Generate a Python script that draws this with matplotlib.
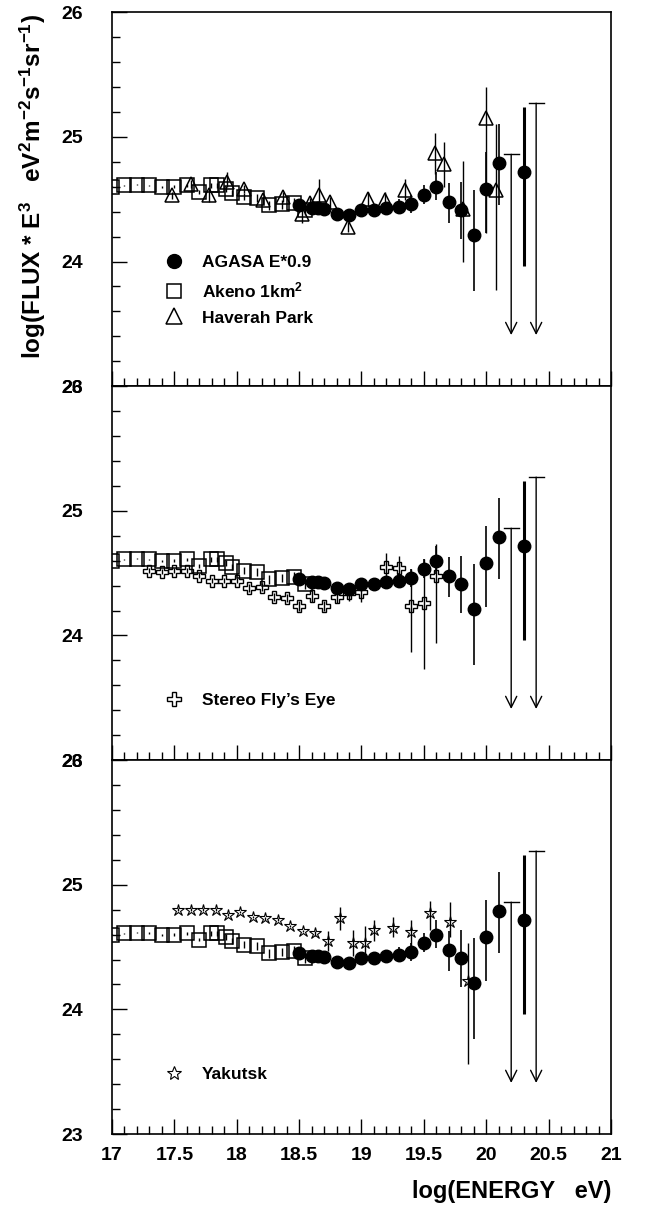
import numpy as np
import matplotlib.pyplot as plt
from matplotlib.lines import Line2D
from matplotlib.ticker import MultipleLocator, FormatStrFormatter

plt.rcParams['font.family'] = ['Liberation Sans', 'DejaVu Sans']
plt.rcParams['font.weight'] = 'bold'
plt.rcParams['mathtext.fontset'] = 'custom'
plt.rcParams['mathtext.rm'] = 'Liberation Sans:bold'
plt.rcParams['mathtext.it'] = 'Liberation Sans:bold'
plt.rcParams['mathtext.bf'] = 'Liberation Sans:bold'
plt.rcParams['mathtext.default'] = 'rm'

# AGASA, energies scaled by 0.9
agasa_x = np.array([18.5, 18.6, 18.65, 18.7, 18.8, 18.9, 19.0, 19.1, 19.2, 19.3,
                    19.4, 19.5, 19.6, 19.7, 19.8, 19.9, 20.0, 20.1, 20.3])
agasa_y = np.array([24.45, 24.43, 24.43, 24.42, 24.38, 24.37, 24.41, 24.41, 24.43, 24.44,
                    24.46, 24.53, 24.60, 24.48, 24.41, 24.21, 24.58, 24.79, 24.72])
agasa_lo = np.array([0.02, 0.02, 0.02, 0.02, 0.03, 0.03, 0.04, 0.05, 0.05, 0.06,
                     0.07, 0.07, 0.11, 0.17, 0.23, 0.45, 0.35, 0.34, 0.76])
agasa_hi = np.array([0.02, 0.02, 0.02, 0.02, 0.03, 0.03, 0.04, 0.05, 0.05, 0.06,
                     0.07, 0.08, 0.12, 0.15, 0.23, 0.36, 0.30, 0.31, 0.52])
# AGASA upper limits
agasa_ul_x = np.array([20.2, 20.4])
agasa_ul_top = np.array([24.86, 25.27])
agasa_ul_tip = np.array([23.41, 23.41])

# Akeno 1 km^2
akeno_x = np.array([17.0, 17.1, 17.2, 17.3, 17.4, 17.5, 17.6, 17.7, 17.79, 17.845,
                    17.91, 17.96, 18.06, 18.16, 18.26, 18.36, 18.46, 18.55])
akeno_y = np.array([24.60, 24.61, 24.615, 24.61, 24.60, 24.60, 24.61, 24.56, 24.61, 24.61,
                    24.58, 24.55, 24.52, 24.51, 24.45, 24.46, 24.47, 24.41])
akeno_err = np.array([0.005, 0.005, 0.005, 0.007, 0.008, 0.01, 0.012, 0.015, 0.02, 0.02,
                      0.025, 0.025, 0.03, 0.03, 0.035, 0.035, 0.04, 0.04])

# Haverah Park
hp_x = np.array([17.48, 17.63, 17.78, 17.92, 18.06, 18.21, 18.37, 18.52, 18.59, 18.66,
                 18.75, 18.89, 19.05, 19.19, 19.35, 19.59, 19.66, 19.81, 20.0, 20.08])
hp_y = np.array([24.53, 24.62, 24.53, 24.64, 24.58, 24.49, 24.52, 24.38, 24.47, 24.53,
                 24.48, 24.28, 24.50, 24.49, 24.57, 24.87, 24.78, 24.42, 25.15, 24.57])
hp_lo = np.array([0.03, 0.03, 0.05, 0.04, 0.03, 0.03, 0.04, 0.07, 0.04, 0.08,
                  0.04, 0.04, 0.06, 0.07, 0.08, 0.17, 0.18, 0.42, 0.92, 0.80])
hp_hi = np.array([0.03, 0.03, 0.05, 0.08, 0.03, 0.03, 0.04, 0.06, 0.04, 0.13,
                  0.04, 0.04, 0.06, 0.07, 0.09, 0.16, 0.18, 0.39, 0.25, 0.53])

# Stereo Fly's Eye
sfe_x = np.array([17.3, 17.4, 17.5, 17.6, 17.7, 17.8, 17.9, 18.0, 18.1, 18.2, 18.3, 18.4,
                  18.5, 18.6, 18.7, 18.8, 18.9, 19.0, 19.2, 19.3, 19.4, 19.5, 19.6])
sfe_y = np.array([24.52, 24.51, 24.52, 24.52, 24.48, 24.44, 24.44, 24.44, 24.38, 24.39, 24.31, 24.30,
                  24.24, 24.32, 24.24, 24.31, 24.34, 24.35, 24.55, 24.54, 24.24, 24.26, 24.48])
sfe_lo = np.array([0.02, 0.02, 0.02, 0.02, 0.02, 0.02, 0.02, 0.02, 0.03, 0.03, 0.03, 0.03,
                   0.04, 0.05, 0.04, 0.05, 0.06, 0.08, 0.08, 0.10, 0.37, 0.53, 0.54])
sfe_hi = np.array([0.02, 0.02, 0.02, 0.02, 0.02, 0.02, 0.02, 0.02, 0.03, 0.03, 0.03, 0.03,
                   0.04, 0.05, 0.04, 0.05, 0.06, 0.08, 0.11, 0.10, 0.29, 0.35, 0.25])

# Yakutsk
yak_x = np.array([17.53, 17.63, 17.73, 17.83, 17.93, 18.03, 18.13, 18.23, 18.33, 18.43,
                  18.53, 18.63, 18.73, 18.83, 18.93, 19.03, 19.10, 19.25, 19.40, 19.55,
                  19.71, 19.85])
yak_y = np.array([24.80, 24.80, 24.80, 24.80, 24.76, 24.78, 24.74, 24.73, 24.72, 24.67,
                  24.63, 24.61, 24.55, 24.73, 24.53, 24.53, 24.64, 24.65, 24.62, 24.77,
                  24.70, 24.23])
yak_lo = np.array([0.01, 0.01, 0.01, 0.01, 0.01, 0.01, 0.01, 0.01, 0.01, 0.01,
                   0.01, 0.02, 0.08, 0.09, 0.10, 0.10, 0.09, 0.07, 0.16, 0.13,
                   0.12, 0.67])
yak_hi = np.array([0.01, 0.01, 0.01, 0.01, 0.01, 0.01, 0.01, 0.01, 0.01, 0.01,
                   0.01, 0.02, 0.08, 0.09, 0.11, 0.14, 0.08, 0.09, 0.10, 0.10,
                   0.16, 0.30])


def draw_common(ax):
    # Akeno squares, hollow
    ax.errorbar(akeno_x, akeno_y, yerr=akeno_err, fmt='s', ms=9.5, mfc='none', mec='k',
                mew=1.1, ecolor='k', elinewidth=1.0, capsize=0, zorder=3)
    # AGASA filled circles
    thick = agasa_x > 20.2
    ax.errorbar(agasa_x[~thick], agasa_y[~thick],
                yerr=[agasa_lo[~thick], agasa_hi[~thick]], fmt='o', ms=9, color='k',
                elinewidth=1.2, capsize=0, zorder=6)
    ax.errorbar(agasa_x[thick], agasa_y[thick],
                yerr=[agasa_lo[thick], agasa_hi[thick]], fmt='o', ms=9, color='k',
                elinewidth=2.2, capsize=0, zorder=6)
    # upper limits
    for x, top, tip in zip(agasa_ul_x, agasa_ul_top, agasa_ul_tip):
        ax.annotate('', xy=(x, tip), xytext=(x, top),
                    arrowprops=dict(arrowstyle='->', lw=1.0, color='k',
                                    mutation_scale=20, shrinkA=0, shrinkB=0))
        ax.plot([x - 0.055, x + 0.06], [top, top], color='k', lw=1.0)


def style_axes(ax, labels):
    ax.set_xlim(17, 21)
    ax.set_ylim(23, 26)
    ax.xaxis.set_major_locator(MultipleLocator(0.5))
    ax.xaxis.set_minor_locator(MultipleLocator(0.1))
    ax.yaxis.set_major_locator(MultipleLocator(1))
    ax.yaxis.set_minor_locator(MultipleLocator(0.2))
    ax.xaxis.set_major_formatter(FormatStrFormatter('%g'))
    ax.yaxis.set_major_formatter(FormatStrFormatter('%g'))
    ax.tick_params(which='both', direction='in', top=False, right=False, width=1.0)
    ax.tick_params(which='major', length=11)
    ax.tick_params(which='minor', length=6)
    ax.tick_params(axis='y', pad=21, labelsize=14)
    ax.tick_params(axis='x', pad=9, labelsize=14, labelbottom=labels)
    for sp in ax.spines.values():
        sp.set_linewidth(1.2)


def add_legend(ax, handles, top):
    ax.legend(handles=handles, loc='upper left', bbox_to_anchor=(0.1076, top),
              frameon=False, borderpad=0, borderaxespad=0, handlelength=1.0,
              handletextpad=1.08, labelspacing=0.6, prop=dict(size=12.5, weight='bold'))


fig = plt.figure(figsize=(6.69, 12.09), dpi=100)
left, width, height = 0.1674, 0.7459, 0.3093
ax1 = fig.add_axes([left, 0.6806, width, height])
ax2 = fig.add_axes([left, 0.3713, width, height])
ax3 = fig.add_axes([left, 0.0620, width, height])

# top panel: AGASA, Akeno, Haverah Park
draw_common(ax1)
ax1.errorbar(hp_x, hp_y, yerr=[hp_lo, hp_hi], fmt='^', ms=10.5, mfc='none', mec='k',
             mew=1.1, ecolor='k', elinewidth=1.0, capsize=0, zorder=4)
add_legend(ax1, [
    Line2D([], [], ls='none', marker='o', ms=10, color='k'),
    Line2D([], [], ls='none', marker='s', ms=10.5, mfc='none', mec='k', mew=1.1),
    Line2D([], [], ls='none', marker='^', ms=11.5, mfc='none', mec='k', mew=1.1)],
    0.352)
ax1.get_legend().texts[0].set_text('AGASA E*0.9')
ax1.get_legend().texts[1].set_text('Akeno 1km$^2$')
ax1.get_legend().texts[2].set_text('Haverah Park')
style_axes(ax1, False)

# middle panel: Stereo Fly's Eye
draw_common(ax2)
ax2.errorbar(sfe_x, sfe_y, yerr=[sfe_lo, sfe_hi], fmt='P', ms=9, mfc='none', mec='k',
             mew=1.0, ecolor='k', elinewidth=1.0, capsize=0, zorder=4)
add_legend(ax2, [Line2D([], [], ls='none', marker='P', ms=10, mfc='none', mec='k', mew=1.0)],
           0.18)
ax2.get_legend().texts[0].set_text('Stereo Fly\u2019s Eye')
style_axes(ax2, False)

# bottom panel: Yakutsk
draw_common(ax3)
ax3.errorbar(yak_x, yak_y, yerr=[yak_lo, yak_hi], fmt='*', ms=9, mfc='none', mec='k',
             mew=0.8, ecolor='k', elinewidth=1.0, capsize=0, zorder=4)
add_legend(ax3, [Line2D([], [], ls='none', marker='*', ms=10, mfc='none', mec='k', mew=0.8)],
           0.18)
ax3.get_legend().texts[0].set_text('Yakutsk')
style_axes(ax3, True)

ax3.set_xlabel('log(ENERGY   eV)', loc='right', fontsize=17, fontweight='bold', labelpad=12)
fig.text(0.049, 0.846, 'log(FLUX * E$^3$   eV$^2$m$^{-2}$s$^{-1}$sr$^{-1}$)',
         rotation=90, ha='center', va='center', fontsize=17.5, fontweight='bold')

fig.savefig('out.png', dpi=100)
